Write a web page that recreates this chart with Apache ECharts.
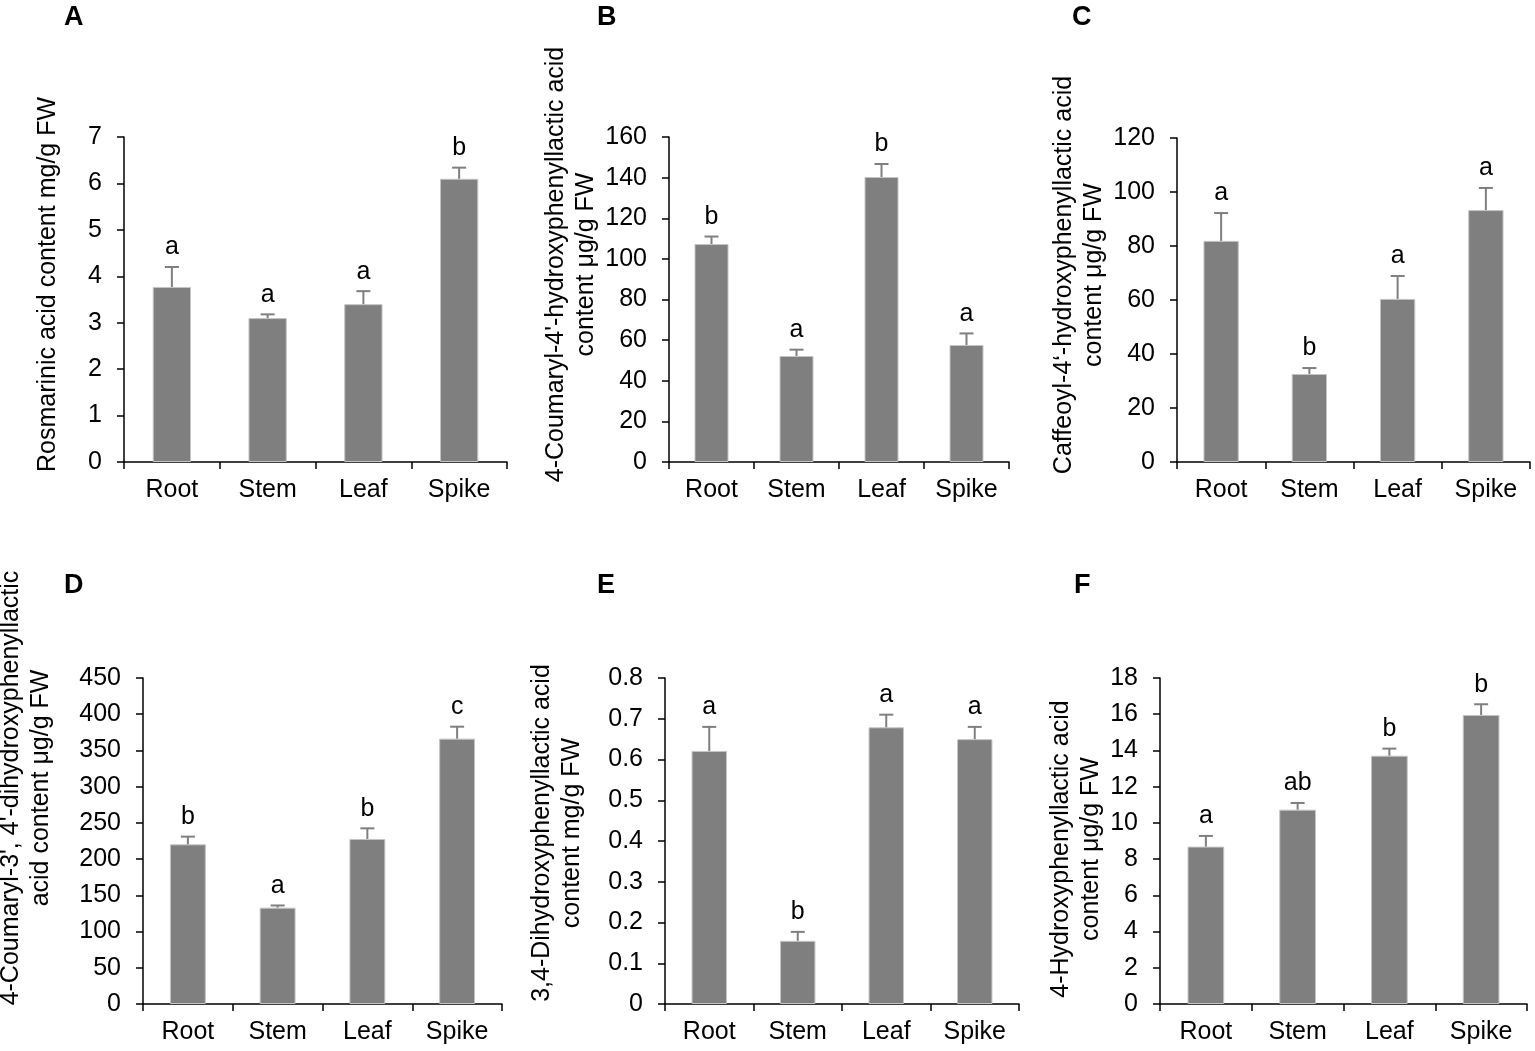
<!DOCTYPE html>
<html>
<head>
<meta charset="utf-8">
<script src="https://cdn.jsdelivr.net/npm/echarts@6/dist/echarts.min.js"></script>
<style>
html,body{margin:0;padding:0;background:#fff;}
#chart{width:1535px;height:1051px;}
</style>
</head>
<body>
<div id="chart"></div>
<script>
// ---- data ----
const categories = ['Root', 'Stem', 'Leaf', 'Spike'];

const panelLetters = ['A', 'B', 'C', 'D', 'E', 'F'];

const yTitles = [
  'Rosmarinic acid content mg/g FW',
  '4-Coumaryl-4\'-hydroxyphenyllactic acid\ncontent μg/g FW',
  'Caffeoyl-4‘-hydroxyphenyllactic acid\ncontent μg/g FW',
  '4-Coumaryl-3\', 4\'-dihydroxyphenyllactic\nacid content μg/g FW',
  '3,4-Dihydroxyphenyllactic acid\ncontent mg/g FW',
  '4-Hydroxyphenyllactic acid\ncontent μg/g FW'
];

const meanA = [3.77, 3.10, 3.40, 6.10];
const seA   = [0.43, 0.08, 0.28, 0.24];
const sigA  = ['a', 'a', 'a', 'b'];

const meanB = [107.3, 52.2, 140.3, 57.6];
const seB   = [3.7, 3.1, 6.4, 5.7];
const sigB  = ['b', 'a', 'b', 'a'];

const meanC = [81.9, 32.6, 60.4, 93.3];
const seC   = [10.3, 2.2, 8.5, 8.2];
const sigC  = ['a', 'b', 'a', 'a'];

const meanD = [220.4, 133.0, 227.8, 366.3];
const seD   = [10.6, 3.0, 14.7, 16.5];
const sigD  = ['b', 'a', 'b', 'c'];

const meanE = [0.621, 0.155, 0.679, 0.650];
const seE   = [0.059, 0.022, 0.031, 0.030];
const sigE  = ['a', 'b', 'a', 'a'];

const meanF = [8.69, 10.73, 13.71, 15.96];
const seF   = [0.59, 0.37, 0.39, 0.59];
const sigF  = ['a', 'ab', 'b', 'b'];

const yMax      = [7, 160, 120, 450, 0.8, 18];
const yInterval = [1, 20, 20, 50, 0.1, 2];

const means = [meanA, meanB, meanC, meanD, meanE, meanF];
const ses   = [seA, seB, seC, seD, seE, seF];
const sigs  = [sigA, sigB, sigC, sigD, sigE, sigF];

// ---- layout ----
const grids = [
  {left: 124, top: 137, width: 383, height: 325},
  {left: 669, top: 137, width: 340, height: 325},
  {left: 1177, top: 138, width: 353, height: 324},
  {left: 143, top: 678, width: 359, height: 326},
  {left: 665, top: 678, width: 354, height: 326},
  {left: 1160, top: 678, width: 367, height: 326}
];
const nameGaps = [61, 64, 60, 87, 78, 45];
const namePads = [[0,0,0,30],[0,0,0,70],[0,0,0,50],[0,0,0,106],[0,0,0,16],[0,16,0,0]];
const titlePos = [
  {left: 64, top: 4}, {left: 597, top: 4}, {left: 1072, top: 4},
  {left: 64, top: 572}, {left: 597, top: 572}, {left: 1074, top: 572}
];

const FONT = '"Liberation Sans", Arial, sans-serif';
const FS = 25;
const BAR = '#7f7f7f';

const option = {
  animation: false,
  backgroundColor: '#ffffff',
  title: [],
  grid: [],
  xAxis: [],
  yAxis: [],
  series: []
};

for (let i = 0; i < 6; i++) {
  option.title.push({
    text: panelLetters[i],
    left: titlePos[i].left, top: titlePos[i].top, padding: 0,
    textStyle: {fontFamily: FONT, fontSize: 27, fontWeight: 'bold', color: '#000'}
  });
  option.grid.push(Object.assign({containLabel: false, outerBoundsMode: 'none'}, grids[i]));
  option.xAxis.push({
    type: 'category', gridIndex: i, data: categories,
    axisLine: {show: true, lineStyle: {color: '#000', width: 1.5}},
    axisTick: {show: true, length: 7, interval: 0, alignWithLabel: false, lineStyle: {color: '#000', width: 1.5}},
    axisLabel: {fontFamily: FONT, fontSize: FS, color: '#000', margin: 16, interval: 0},
    splitLine: {show: false}
  });
  const dec = yInterval[i] < 1;
  option.yAxis.push({
    type: 'value', gridIndex: i, min: 0, max: yMax[i], interval: yInterval[i],
    name: yTitles[i], nameLocation: 'middle', nameRotate: 90, nameGap: nameGaps[i],
    nameTextStyle: {fontFamily: FONT, fontSize: FS, color: '#000', lineHeight: 30, padding: namePads[i], align: 'center'},
    axisLine: {show: true, lineStyle: {color: '#000', width: 1.5}},
    axisTick: {show: true, length: 7, lineStyle: {color: '#000', width: 1.5}},
    axisLabel: {fontFamily: FONT, fontSize: FS, color: '#000', margin: 22, hideOverlap: false,
      formatter: v => (v === 0 ? '0' : (dec ? v.toFixed(1) : String(v)))},
    splitLine: {show: false}
  });
  option.series.push({
    type: 'bar', xAxisIndex: i, yAxisIndex: i,
    data: means[i], barWidth: '40%',
    itemStyle: {color: BAR, borderColor: '#c4c4c4', borderWidth: 1},
    z: 2
  });
  const sig = sigs[i];
  option.series.push({
    type: 'custom', xAxisIndex: i, yAxisIndex: i, z: 3,
    data: means[i].map((m, k) => [k, m, m + ses[i][k]]),
    renderItem: function (params, api) {
      const k = api.value(0);
      const base = api.coord([k, api.value(1)]);
      const top = api.coord([k, api.value(2)]);
      const half = 7;
      return {
        type: 'group',
        children: [
          {type: 'line', shape: {x1: top[0], y1: base[1], x2: top[0], y2: top[1]},
           style: {stroke: BAR, lineWidth: 2}},
          {type: 'line', shape: {x1: top[0] - half, y1: top[1], x2: top[0] + half, y2: top[1]},
           style: {stroke: BAR, lineWidth: 2}},
          {type: 'text', x: top[0], y: top[1] - 7,
           style: {text: sig[params.dataIndex], fontFamily: FONT, fontSize: FS, fill: '#000',
                   align: 'center', verticalAlign: 'bottom'}}
        ]
      };
    }
  });
}

const chart = echarts.init(document.getElementById('chart'), null, {renderer: 'canvas'});
chart.setOption(option);
</script>
</body>
</html>
